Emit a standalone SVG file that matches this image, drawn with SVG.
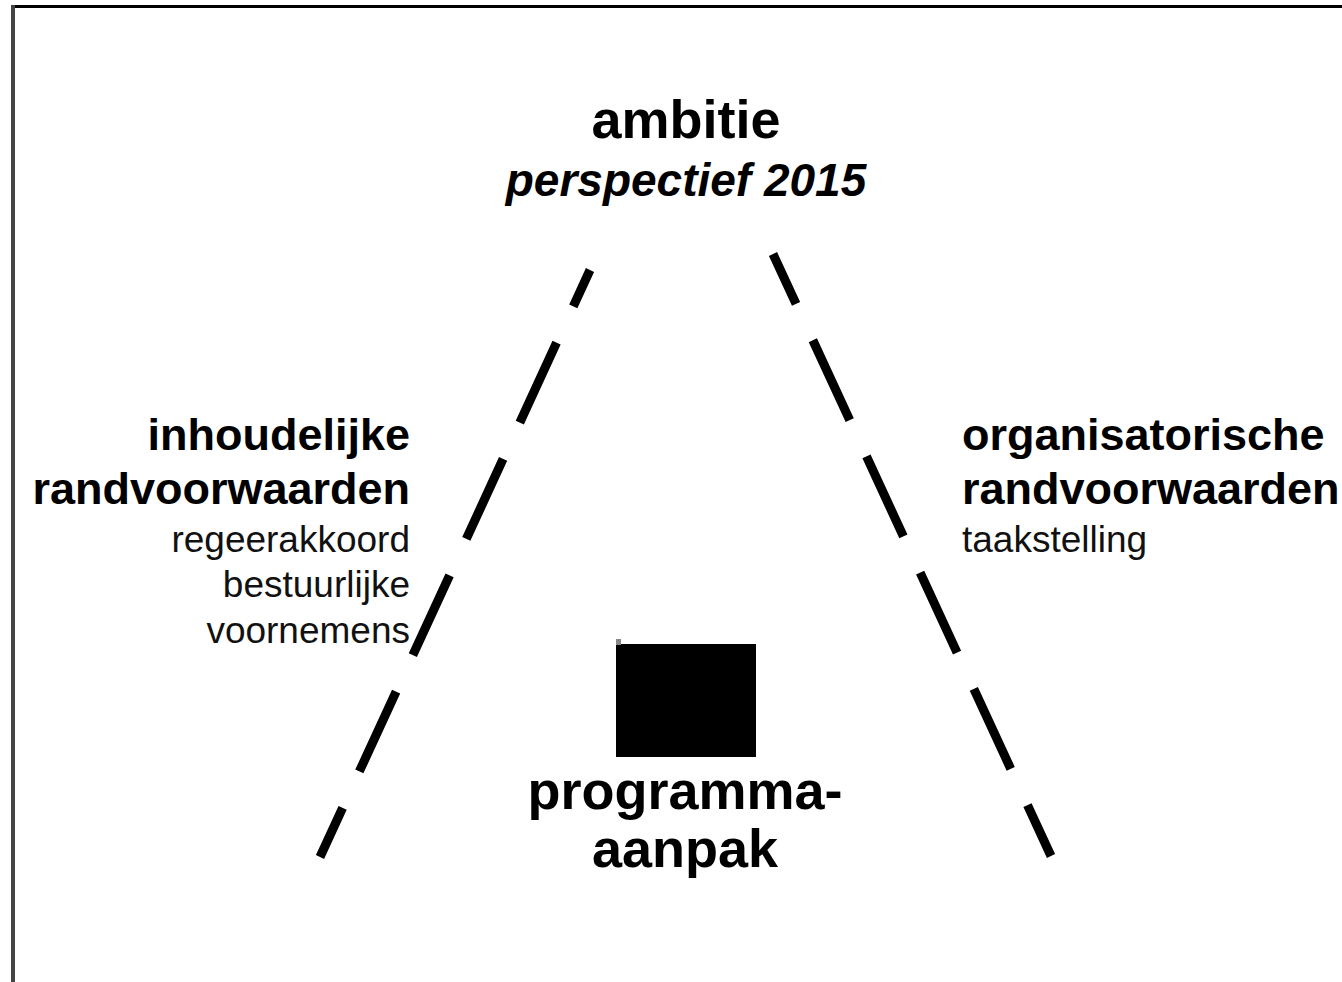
<svg xmlns="http://www.w3.org/2000/svg" width="1342" height="982" viewBox="0 0 1342 982">
<style>
text{font-family:"Liberation Sans",Arial,sans-serif;fill:#000}
.big{font-size:54px;font-weight:bold}
.sub{font-size:45px;font-weight:bold}
.it{font-size:46px;font-weight:bold;font-style:italic}
.sm{font-size:37px;fill:#111}
.dash{stroke:#000;stroke-width:9;stroke-dasharray:88 40;fill:none}
</style>
<rect width="1342" height="982" fill="#fff"/>
<g id="frame">
<line x1="11" y1="6.5" x2="1342" y2="6.5" stroke="#000" stroke-width="3"/>
<line x1="13" y1="5" x2="13" y2="982" stroke="#444" stroke-width="4"/>
</g>
<g id="connectors">
<line class="dash" x1="590" y1="270" x2="320" y2="857" stroke-dashoffset="48"/>
<line class="dash" x1="773" y1="254" x2="1051" y2="856" stroke-dashoffset="33"/>
</g>
<g id="ambitie">
<text class="big" x="686" y="138" text-anchor="middle">ambitie</text>
<text class="it" x="686" y="196" text-anchor="middle">perspectief 2015</text>
</g>
<g id="inhoudelijke">
<text class="sub" x="410" y="450" text-anchor="end">inhoudelijke</text>
<text class="sub" x="410" y="504" text-anchor="end">randvoorwaarden</text>
<text class="sm" x="410" y="552" text-anchor="end">regeerakkoord</text>
<text class="sm" x="410" y="597" text-anchor="end">bestuurlijke</text>
<text class="sm" x="410" y="643" text-anchor="end">voornemens</text>
</g>
<g id="organisatorische">
<text class="sub" x="962" y="450">organisatorische</text>
<text class="sub" x="962" y="504">randvoorwaarden</text>
<text class="sm" x="962" y="552">taakstelling</text>
</g>
<g id="programma">
<rect x="616" y="644" width="140" height="113" fill="#000"/>
<rect x="616" y="639" width="5" height="6" fill="#888"/>
<text class="big" x="685" y="809" text-anchor="middle">programma-</text>
<text class="big" x="685" y="867" text-anchor="middle">aanpak</text>
</g>
</svg>
